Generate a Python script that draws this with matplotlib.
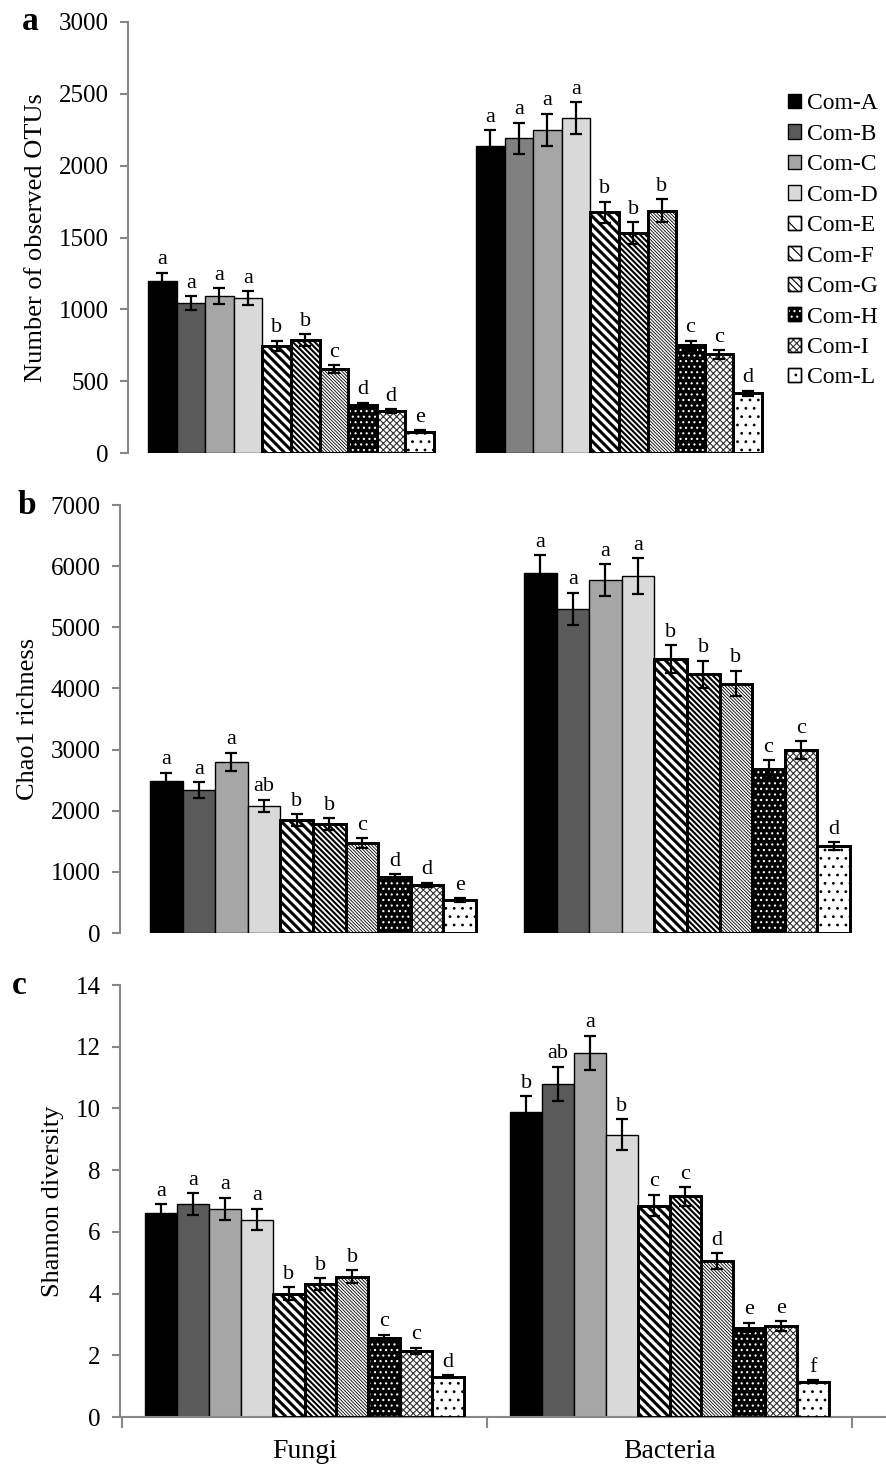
import numpy as np, matplotlib; matplotlib.use('Agg')
import matplotlib.pyplot as plt
from matplotlib.patches import Patch
from matplotlib.collections import LineCollection

plt.rcParams['font.family'] = ['Liberation Serif', 'DejaVu Serif']
plt.rcParams['hatch.linewidth'] = 0.8

coms = ['Com-A','Com-B','Com-C','Com-D','Com-E','Com-F','Com-G','Com-H','Com-I','Com-L']
groups = ['Fungi','Bacteria']

# panel a - observed OTUs
otu_fungi = [1200,1042,1093,1077,747,786,585,334,290,148]
otu_fungi_err = [55,50,55,50,35,40,25,15,15,10]
otu_fungi_lab = ['a','a','a','a','b','b','c','d','d','e']
otu_bact = [2140,2190,2250,2330,1675,1531,1685,750,687,415]
otu_bact_err = [105,110,110,110,75,75,80,30,30,20]
otu_bact_lab = ['a','a','a','a','b','b','b','c','c','d']

# panel b - Chao1
chao_fungi = [2490,2340,2800,2080,1850,1780,1470,920,790,540]
chao_fungi_err = [130,130,150,100,95,95,80,40,35,30]
chao_fungi_lab = ['a','a','a','ab','b','b','c','d','d','e']
chao_bact = [5890,5300,5770,5840,4480,4230,4080,2680,2990,1420]
chao_bact_err = [290,265,260,290,230,220,210,150,145,65]
chao_bact_lab = ['a','a','a','a','b','b','b','c','c','d']

# panel c - Shannon
shan_fungi = [6.6,6.9,6.75,6.4,4.0,4.3,4.55,2.55,2.15,1.3]
shan_fungi_err = [0.3,0.35,0.35,0.35,0.2,0.2,0.2,0.12,0.1,0.05]
shan_fungi_lab = ['a','a','a','a','b','b','b','c','c','d']
shan_bact = [9.9,10.8,11.8,9.15,6.85,7.15,5.05,2.9,2.95,1.15]
shan_bact_err = [0.5,0.55,0.55,0.5,0.35,0.3,0.25,0.15,0.15,0.05]
shan_bact_lab = ['b','ab','a','b','c','c','d','e','e','f']

# bar styles: face, hatch (legend + dot fills), hatch colour, stripe (spacing px, lw), edge lw
styles = [
    ('black', None, 'black', None, 1.0),
    ('#5a5a5a', None, 'black', None, 1.0),
    ('#a6a6a6', None, 'black', None, 1.0),
    ('#d9d9d9', None, 'black', None, 1.0),
    ('white', '\\\\', 'black', (9.0, 2.2), 2.0),
    ('white', '\\\\\\', 'black', (5.5, 1.5), 2.0),
    ('white', '\\\\\\\\\\', 'black', (3.3, 0.6), 2.0),
    ('black', '...', 'white', None, 2.0),
    ('white', 'xxxxx', '#333333', None, 2.0),
    ('white', '..', 'black', None, 2.0),
]

fig = plt.figure(figsize=(8.86, 14.66), dpi=100)

def px_axes(x0, x1, ytop, ybot):
    return fig.add_axes([x0/886, 1-ybot/1466, (x1-x0)/886, (ybot-ytop)/1466])

def stripes(ax, x0, w, h, spacing, lw, clip):
    xl = ax.get_xlim(); yl = ax.get_ylim()
    sx = ax.bbox.width/(xl[1]-xl[0]); sy = ax.bbox.height/(yl[1]-yl[0])
    wpx = w*sx; hpx = h*sy
    segs = [[(x0, c/sy), (x0 + c/sx, 0)] for c in np.arange(spacing/2, wpx+hpx+spacing, spacing)]
    lc = LineCollection(segs, colors='black', linewidths=lw, zorder=3)
    ax.add_collection(lc)
    lc.set_clip_path(clip)

def draw_bars(ax, x, vals, errs, labs, ymax, bface=None):
    w = 0.0872
    ax.set_ylim(0, ymax)
    for i in range(10):
        xi = x + (i-4.5)*w
        face, hatch, hcol, strp, elw = styles[i]
        if bface is not None and i == 1:
            face = bface
        base = ax.bar(xi, vals[i], w, color=face, edgecolor='black', lw=elw, zorder=2)
        if strp:
            stripes(ax, xi-w/2, w, vals[i], strp[0], strp[1], base[0])
        elif hatch:
            ax.bar(xi, vals[i], w, color='none', edgecolor=hcol, lw=0, hatch=hatch, zorder=3)
        if hatch:
            ax.bar(xi, vals[i], w, fill=False, edgecolor='black', lw=elw, zorder=4)
        ax.errorbar(xi, vals[i], yerr=errs[i], fmt='none', ecolor='black',
                    elinewidth=1.6, capsize=4, capthick=1.6, zorder=5)
        ax.text(xi, vals[i]+errs[i]+ymax*0.008, labs[i], ha='center', va='bottom',
                fontsize=16, zorder=6)

def style_y(ax, ymax, step, label):
    ax.set_ylim(0, ymax)
    ax.set_yticks(np.arange(0, ymax+step/2, step))
    for s in ('top','right','bottom'):
        ax.spines[s].set_visible(False)
    ax.spines['left'].set_color('#888888')
    ax.spines['left'].set_linewidth(1.5)
    ax.tick_params(axis='y', direction='out', length=6, width=1.5, color='#888888',
                   labelsize=18, pad=8)
    ax.set_ylabel(label, fontsize=19, labelpad=8)
    ax.patch.set_alpha(0)

# panel a
axa = px_axes(128, 770, 22, 453)
axa.set_xlim((128-291)/328, (770-291)/328)
draw_bars(axa, 0, otu_fungi, otu_fungi_err, otu_fungi_lab, 3000)
draw_bars(axa, 1, otu_bact, otu_bact_err, otu_bact_lab, 3000, bface='#808080')
style_y(axa, 3000, 500, 'Number of observed OTUs')
axa.set_xticks([])

# panel b
axb = px_axes(120, 870, 505, 933)
axb.set_xlim((120-313)/374, (870-313)/374)
draw_bars(axb, 0, chao_fungi, chao_fungi_err, chao_fungi_lab, 7000)
draw_bars(axb, 1, chao_bact, chao_bact_err, chao_bact_lab, 7000)
style_y(axb, 7000, 1000, 'Chao1 richness')
axb.set_xticks([])

# panel c
axc = px_axes(120, 886, 985, 1417)
axc.set_xlim((120-304.5)/365, (886-304.5)/365)
draw_bars(axc, 0, shan_fungi, shan_fungi_err, shan_fungi_lab, 14)
draw_bars(axc, 1, shan_bact, shan_bact_err, shan_bact_lab, 14)
style_y(axc, 14, 2, 'Shannon diversity')
axc.spines['bottom'].set_visible(True)
axc.spines['bottom'].set_color('#888888')
axc.spines['bottom'].set_linewidth(1.5)
axc.set_xticks([-0.5, 0.5, 1.5])
axc.set_xticklabels([])
axc.set_xticks([0, 1], minor=True)
axc.set_xticklabels(groups, minor=True, fontsize=20)
axc.tick_params(axis='x', which='major', direction='out', length=8, width=1.5, color='#888888')
axc.tick_params(axis='x', which='minor', length=0, pad=16)

# panel letters
fig.text(22/886, 1-22/1466, 'a', fontsize=24, fontweight='bold', va='center', ha='left')
fig.text(18/886, 1-505/1466, 'b', fontsize=24, fontweight='bold', va='center', ha='left')
fig.text(12/886, 1-985/1466, 'c', fontsize=24, fontweight='bold', va='center', ha='left')

# legend
handles = []
for face, hatch, hcol, strp, elw in styles:
    base = Patch(facecolor=face, edgecolor='black', lw=1.0)
    if hatch:
        hp = Patch(facecolor='none', edgecolor=hcol, lw=0, hatch=hatch)
        handles.append((base, hp, Patch(fill=False, edgecolor='black', lw=1.0)))
    else:
        handles.append(base)
fig.legend(handles, coms, loc='upper left', bbox_to_anchor=(779/886, 1-84/1466),
           frameon=False, fontsize=17, handlelength=0.55, handleheight=0.55,
           handletextpad=0.25, labelspacing=0.4, borderaxespad=0)

fig.savefig('out.png', dpi=100)
